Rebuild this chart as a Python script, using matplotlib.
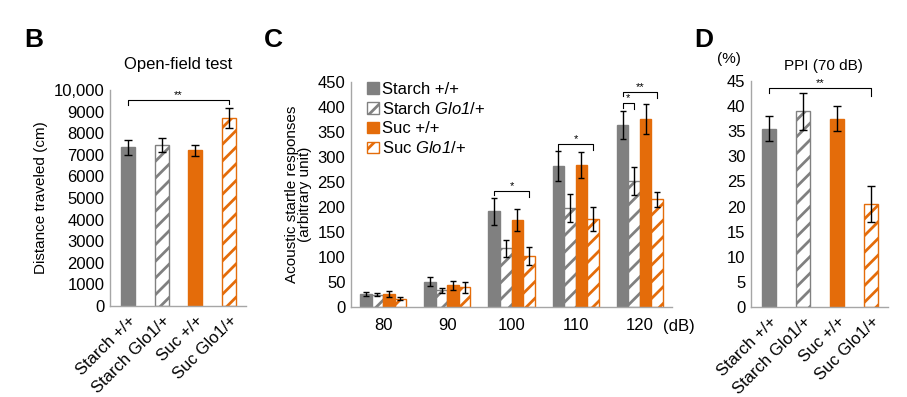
import matplotlib
matplotlib.use("Agg")
import matplotlib.pyplot as plt
import numpy as np
from matplotlib.patches import Patch

plt.rcParams['font.family'] = ['Liberation Sans', 'DejaVu Sans']
plt.rcParams['mathtext.fontset'] = 'custom'
plt.rcParams['mathtext.rm'] = 'Liberation Sans'
plt.rcParams['mathtext.it'] = 'Liberation Sans:italic'
plt.rcParams['mathtext.sf'] = 'Liberation Sans:italic'
plt.rcParams['hatch.linewidth'] = 2.0

# ---------------- data ----------------
groups = ['Starch +/+', 'Starch Glo1/+', 'Suc +/+', 'Suc Glo1/+']
legend_labels = ['Starch +/+', r'Starch $\mathsf{Glo1}$/+', 'Suc +/+', r'Suc $\mathsf{Glo1}$/+']

openfield_mean = [7350, 7450, 7200, 8700]
openfield_err = [350, 320, 260, 450]

db_levels = ['80', '90', '100', '110', '120']
startle_starch_wt = [27, 51, 192, 283, 364]
startle_starch_wt_err = [4, 9, 27, 30, 28]
startle_starch_glo = [25, 34, 118, 199, 253]
startle_starch_glo_err = [3, 5, 17, 28, 28]
startle_suc_wt = [27, 44, 175, 285, 376]
startle_suc_wt_err = [6, 9, 22, 26, 30]
startle_suc_glo = [17, 40, 103, 177, 216]
startle_suc_glo_err = [3, 11, 18, 24, 15]

ppi_mean = [35.5, 39.0, 37.5, 20.5]
ppi_err = [2.5, 3.7, 2.5, 3.5]

GRAY = '#808080'
ORANGE = '#E46C0A'
styles = [
    dict(facecolor=GRAY, edgecolor=GRAY, hatch=None),
    dict(facecolor='white', edgecolor=GRAY, hatch='//'),
    dict(facecolor=ORANGE, edgecolor=ORANGE, hatch=None),
    dict(facecolor='white', edgecolor=ORANGE, hatch='//'),
]

W, H = 907, 397
fig = plt.figure(figsize=(W / 100, H / 100), dpi=100)


def ax_at(x0, x1, ybot, ytop):
    return fig.add_axes([x0 / W, (H - ybot) / H, (x1 - x0) / W, (ybot - ytop) / H])


def style_axes(ax, ysize):
    for s in ['top', 'right']:
        ax.spines[s].set_visible(False)
    for s in ['left', 'bottom']:
        ax.spines[s].set_color('#A6A6A6')
        ax.spines[s].set_linewidth(1.0)
    ax.tick_params(length=0, pad=4)
    ax.tick_params(axis='y', labelsize=ysize)


def bracket(ax, x0, x1, y, h0, h1, text, fs=8):
    ax.plot([x0, x0, x1, x1], [y - h0, y, y, y - h1], color='black', lw=0.8, clip_on=False)
    ax.text((x0 + x1) / 2, y, text, ha='center', va='bottom', fontsize=fs)


# ---------------- panel B ----------------
axB = ax_at(110, 246, 306, 90)
xb = np.arange(4)
for i in range(4):
    st = styles[i]
    axB.bar(xb[i], openfield_mean[i], width=0.42, facecolor=st['facecolor'],
            edgecolor=st['edgecolor'], hatch=st['hatch'], linewidth=1.0)
axB.errorbar(xb, openfield_mean, yerr=openfield_err, fmt='none', ecolor='black',
             elinewidth=1.0, capsize=3, capthick=1.0)
axB.set_xlim(-0.53, 3.5)
axB.set_ylim(0, 10000)
axB.set_yticks(np.arange(0, 10001, 1000))
axB.set_yticklabels(['0', '1000', '2000', '3000', '4000', '5000', '6000', '7000', '8000', '9000', '10,000'])
axB.set_xticks(xb)
axB.set_xticklabels(groups, rotation=45, ha='right', rotation_mode='anchor', fontsize=12)
style_axes(axB, 12)
axB.tick_params(axis='x', pad=5)
axB.set_ylabel('Distance traveled (cm)', fontsize=11, labelpad=4)
bracket(axB, 0, 3, 9550, 250, 220, '**')
fig.text(178 / W, (H - 65) / H, 'Open-field test', ha='center', va='center', fontsize=12)
fig.text(24 / W, (H - 40) / H, 'B', ha='left', va='center', fontsize=19, fontweight='bold')

# ---------------- panel C ----------------
axC = ax_at(351, 672, 307, 82)
xc = np.arange(5)
bw = 0.18
series = [(startle_starch_wt, startle_starch_wt_err),
          (startle_starch_glo, startle_starch_glo_err),
          (startle_suc_wt, startle_suc_wt_err),
          (startle_suc_glo, startle_suc_glo_err)]
handles = []
for i, (m, e) in enumerate(series):
    st = styles[i]
    pos = xc + (i - 1.5) * bw
    axC.bar(pos, m, width=bw, facecolor=st['facecolor'], edgecolor=st['edgecolor'],
            hatch=st['hatch'], linewidth=1.0)
    axC.errorbar(pos, m, yerr=e, fmt='none', ecolor='black', elinewidth=1.0,
                 capsize=2.5, capthick=1.0)
    handles.append(Patch(facecolor=st['facecolor'], edgecolor=st['edgecolor'],
                         hatch=st['hatch'], linewidth=1.0))
axC.set_xlim(-0.5, 4.5)
axC.set_ylim(0, 450)
axC.set_yticks(np.arange(0, 451, 50))
axC.set_xticks(xc)
axC.set_xticklabels(db_levels)
style_axes(axC, 12)
axC.tick_params(axis='x', labelsize=12, pad=8)
axC.set_ylabel('Acoustic startle responses\n(arbitrary unit)', fontsize=11, labelpad=4,
               linespacing=0.95)
axC.text(4.6, -0.085, '(dB)', transform=axC.get_xaxis_transform(), ha='center',
         va='center', fontsize=12, clip_on=False)
leg = axC.legend(handles, legend_labels, loc='upper left', bbox_to_anchor=(0.03, 1.03),
                 frameon=False, fontsize=12, handlelength=0.7, handleheight=0.7,
                 handletextpad=0.2, labelspacing=0.25, borderaxespad=0)
off = 1.5 * bw
bracket(axC, 2 - off, 2 + off, 232, 8, 12, '*')
bracket(axC, 3 - off, 3 + off, 326, 12, 12, '*')
bracket(axC, 4 - off, 4 - off + bw, 408, 10, 12, '*')
bracket(axC, 4 - off, 4 + off, 430, 8, 12, '**')
fig.text(264 / W, (H - 40) / H, 'C', ha='left', va='center', fontsize=19, fontweight='bold')

# ---------------- panel D ----------------
axD = ax_at(751, 888, 307, 81)
xd = np.arange(4)
for i in range(4):
    st = styles[i]
    axD.bar(xd[i], ppi_mean[i], width=0.42, facecolor=st['facecolor'],
            edgecolor=st['edgecolor'], hatch=st['hatch'], linewidth=1.0)
axD.errorbar(xd, ppi_mean, yerr=ppi_err, fmt='none', ecolor='black',
             elinewidth=1.0, capsize=3, capthick=1.0)
axD.set_xlim(-0.53, 3.5)
axD.set_ylim(0, 45)
axD.set_yticks(np.arange(0, 46, 5))
axD.set_xticks(xd)
axD.set_xticklabels(groups, rotation=45, ha='right', rotation_mode='anchor', fontsize=12)
style_axes(axD, 12)
axD.tick_params(axis='x', pad=5)
bracket(axD, 0, 3, 43.6, 0.9, 1.6, '**')
fig.text(729 / W, (H - 59) / H, '(%)', ha='center', va='center', fontsize=11)
fig.text(823 / W, (H - 66) / H, 'PPI (70 dB)', ha='center', va='center', fontsize=11)
fig.text(694 / W, (H - 40) / H, 'D', ha='left', va='center', fontsize=19, fontweight='bold')

fig.savefig('out.png', dpi=100)
